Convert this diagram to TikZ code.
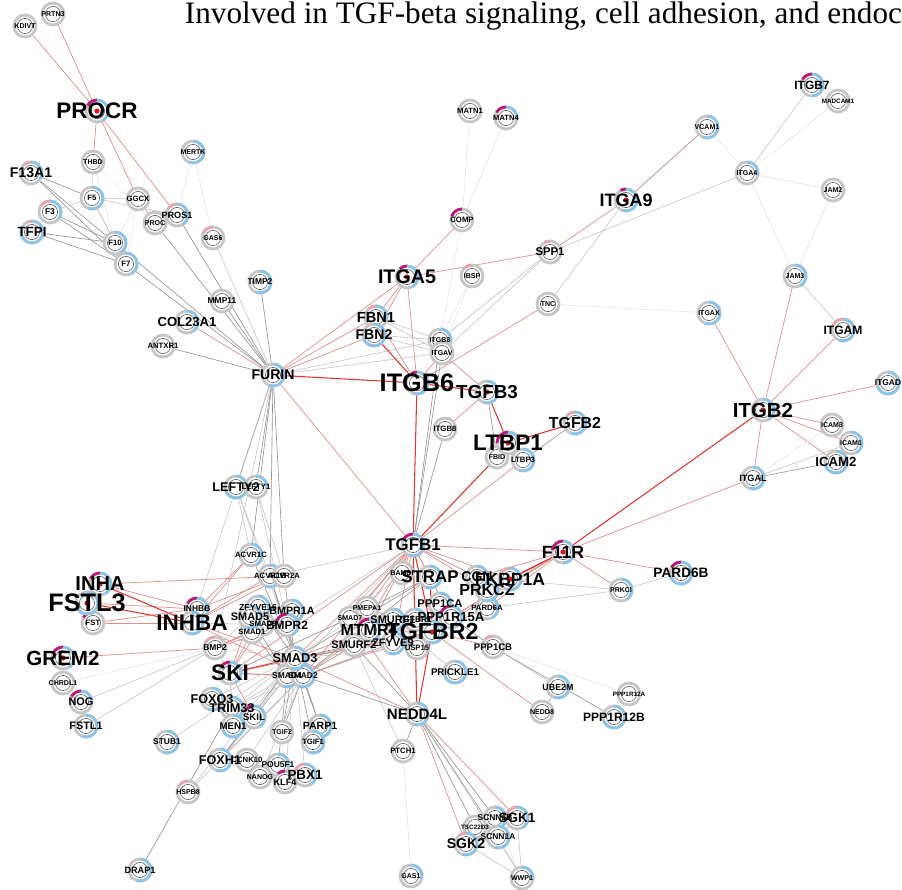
\documentclass[tikz,border=0pt]{standalone}
\usepackage{fontspec}
\setmainfont{Liberation Serif}
\newfontfamily\lblfont{Liberation Sans}
\usetikzlibrary{backgrounds}

\pgfdeclarelayer{front}
\pgfsetlayers{background,main,front}

\definecolor{edgered}{HTML}{E3342F}
\definecolor{edgepink}{HTML}{DE8F89}
\definecolor{edgebrown}{HTML}{B38D86}
\definecolor{edgegray}{HTML}{939393}
\definecolor{edgelight}{HTML}{C2C2C2}
\definecolor{edgefaint}{HTML}{E3E3E3}
\definecolor{ringgray}{HTML}{C6C6C6}
\definecolor{ringblue}{HTML}{8CC3E8}
\definecolor{ringmag}{HTML}{C0187A}
\definecolor{ringpink}{HTML}{E9A6AF}
\definecolor{hubred}{HTML}{E0141E}

\tikzset{
	gene/.style={circle, draw=ringgray, line width=2pt, fill=white, minimum size=0.55cm, inner sep=0pt,
		path picture={\draw[black!60, line width=0.45pt] (path picture bounding box.center) circle (0.19cm);}},
	lab/.style={font=\lblfont\bfseries\fontsize{#1}{#1}\selectfont, inner sep=0pt},
	hardred/.style={draw=edgered, line width=0.75pt},
	softred/.style={draw=edgepink, line width=0.5pt},
	brownline/.style={draw=edgebrown, line width=0.5pt},
	grayline/.style={draw=edgegray, line width=0.45pt},
	lightline/.style={draw=edgelight, line width=0.4pt},
	faintline/.style={draw=edgefaint, line width=0.4pt}
}

\newcommand{\genepie}[4]{%
	\ifdim #2pt>0pt \draw[ringmag, line width=2pt] ([shift={(90:0.275cm)}]#1.center) arc[start angle=90, end angle=90+#2, radius=0.275cm];\fi
	\ifdim #3pt>0pt \pgfmathsetmacro{\pa}{90+#2}\pgfmathsetmacro{\pb}{90+#2+#3}%
		\draw[ringpink, line width=2pt] ([shift={(\pa:0.275cm)}]#1.center) arc[start angle=\pa, end angle=\pb, radius=0.275cm];\fi
	\ifdim #4pt>0pt \draw[ringblue, line width=2pt] ([shift={(90:0.275cm)}]#1.center) arc[start angle=90, end angle=90-#4, radius=0.275cm];\fi}
\newcommand{\hub}[1]{\fill[hubred] (#1.center) circle (0.065cm);}

\begin{document}
\begin{tikzpicture}[x=0.025cm, y=-0.025cm]
	\useasboundingbox (0,0) rectangle (902,889);
	\node[anchor=base west, font=\fontsize{22.2}{22.2}\selectfont] (title) at (180,23) {Involved in TGF-beta signaling, cell adhesion, and endoc};
	
	\node[gene] (KDIVT) at (25,26) {};
	\node[gene] (PRTN3) at (53,14) {};
	\node[gene] (THBD) at (93,162) {};
	\node[gene] (MERTK) at (193,152) {};
	\genepie{MERTK}{0}{0}{200}
	\node[gene] (F5) at (92,198) {};
	\genepie{F5}{0}{0}{200}
	\node[gene] (GGCX) at (138,199) {};
	\node[gene] (PROC) at (155,223) {};
	\node[gene] (PROS1) at (177,215) {};
	\genepie{PROS1}{0}{50}{150}
	\node[gene] (F3) at (50,212) {};
	\genepie{F3}{0}{60}{120}
	\node[gene] (F10) at (115,243) {};
	\genepie{F10}{0}{0}{150}
	\node[gene] (F7) at (126,264) {};
	\genepie{F7}{0}{0}{150}
	\node[gene] (GAS6) at (213,238) {};
	\genepie{GAS6}{0}{60}{0}
	\node[gene] (F13A1) at (31,173) {};
	\genepie{F13A1}{0}{40}{120}
	\node[gene] (TFPI) at (32,232) {};
	\genepie{TFPI}{0}{20}{300}
	\node[gene] (PROCR) at (97,111) {};
	\genepie{PROCR}{60}{0}{150}\hub{PROCR}
	
	\node[gene] (TIMP2) at (260,282) {};
	\genepie{TIMP2}{0}{0}{200}
	\node[gene] (MMP11) at (222,301) {};
	\node[gene] (COL23A1) at (187,322) {};
	\genepie{COL23A1}{0}{0}{150}
	\node[gene] (ANTXR1) at (163,346) {};
	\node[gene] (FURIN) at (273,375) {};
	\genepie{FURIN}{0}{0}{200}
	\node[gene] (LEFTY2) at (236,487) {};
	\genepie{LEFTY2}{0}{0}{250}
	\node[gene] (LEFTY1) at (256,487) {};
	\genepie{LEFTY1}{0}{0}{100}
	\node[gene] (ACVR1C) at (251,555) {};
	\genepie{ACVR1C}{0}{0}{150}
	\node[gene] (ACVR1B) at (270,576) {};
	\genepie{ACVR1B}{0}{0}{200}
	\node[gene] (ACVR2A) at (284,576) {};
	
	\node[gene] (MATN1) at (470,111) {};
	\node[gene] (MATN4) at (506,118) {};
	\genepie{MATN4}{60}{0}{100}
	\node[gene] (COMP) at (462,220) {};
	\genepie{COMP}{70}{0}{0}
	\node[gene] (SPP1) at (550,252) {};
	\genepie{SPP1}{0}{30}{0}
	\node[gene] (IBSP) at (472,276) {};
	\genepie{IBSP}{0}{40}{0}
	\node[gene] (ITGA5) at (407,277) {};
	\genepie{ITGA5}{40}{0}{150}\hub{ITGA5}
	\node[gene] (TNC) at (548,304) {};
	\node[gene] (FBN1) at (376,317) {};
	\genepie{FBN1}{0}{40}{100}
	\node[gene] (FBN2) at (374,335) {};
	\genepie{FBN2}{0}{0}{250}
	\node[gene] (ITGB3) at (440,340) {};
	\genepie{ITGB3}{0}{0}{100}
	\node[gene] (ITGAV) at (442,353) {};
	\node[gene] (ITGB8) at (445,429) {};
	\node[gene] (ITGB6) at (417,383) {};
	\genepie{ITGB6}{30}{0}{200}
	\node[gene] (TGFB3) at (487,392) {};
	\genepie{TGFB3}{0}{0}{200}\hub{TGFB3}
	\node[gene] (TGFB2) at (575,423) {};
	\genepie{TGFB2}{0}{40}{200}
	\node[gene] (FBID) at (497,457) {};
	\node[gene] (LTBP3) at (523,460) {};
	\genepie{LTBP3}{0}{0}{200}
	\node[gene] (LTBP1) at (508,443) {};
	\genepie{LTBP1}{90}{0}{120}\hub{LTBP1}
	
	\node[gene] (ITGB7) at (812,85) {};
	\genepie{ITGB7}{60}{0}{180}
	\node[gene] (MADCAM1) at (838,101) {};
	\node[gene] (VCAM1) at (707,127) {};
	\genepie{VCAM1}{0}{0}{200}
	\node[gene] (ITGA4) at (747,173) {};
	\genepie{ITGA4}{0}{0}{100}
	\node[gene] (ITGA9) at (626,200) {};
	\genepie{ITGA9}{30}{0}{200}\hub{ITGA9}
	\node[gene] (JAM2) at (833,190) {};
	\node[gene] (JAM3) at (795,276) {};
	\genepie{JAM3}{0}{0}{150}
	\node[gene] (ITGAX) at (709,313) {};
	\genepie{ITGAX}{0}{0}{200}
	\node[gene] (ITGAM) at (843,330) {};
	\genepie{ITGAM}{0}{60}{200}
	\node[gene] (ITGAD) at (888,383) {};
	\genepie{ITGAD}{0}{0}{250}
	\node[gene] (ICAM3) at (832,425) {};
	\node[gene] (ICAM1) at (851,443) {};
	\genepie{ICAM1}{0}{0}{150}
	\node[gene] (ICAM2) at (836,462) {};
	\genepie{ICAM2}{0}{0}{250}
	\node[gene] (ITGAL) at (753,478) {};
	\genepie{ITGAL}{0}{0}{200}
	\node[gene] (ITGB2) at (763,410) {};
	\genepie{ITGB2}{0}{0}{150}\hub{ITGB2}
	
	\node[gene] (PARD6B) at (681,573) {};
	\genepie{PARD6B}{60}{0}{250}
	\node[gene] (PRKCI) at (621,590) {};
	\genepie{PRKCI}{0}{0}{150}
	\node[gene] (PPP1R12A) at (629,694) {};
	\node[gene] (PPP1R12B) at (614,717) {};
	\genepie{PPP1R12B}{0}{0}{250}
	\node[gene] (UBE2M) at (558,687) {};
	\genepie{UBE2M}{0}{0}{200}
	\node[gene] (NEDD8) at (542,712) {};
	\node[gene] (PRICKLE1) at (455,672) {};
	\genepie{PRICKLE1}{0}{0}{250}
	\node[gene] (PPP1CB) at (493,647) {};
	\genepie{PPP1CB}{0}{40}{0}
	\node[gene] (F11R) at (563,552) {};
	\genepie{F11R}{80}{0}{180}\hub{F11R}
	\node[gene] (TGFB1) at (413,545) {};
	\genepie{TGFB1}{60}{0}{200}
	
	\node[gene] (PTCH1) at (403,751) {};
	\node[gene] (GAS1) at (411,876) {};
	\genepie{GAS1}{0}{0}{100}
	\node[gene] (WWP1) at (522,878) {};
	\genepie{WWP1}{0}{0}{100}
	\node[gene] (SCNN1B) at (495,818) {};
	\genepie{SCNN1B}{0}{0}{150}
	\node[gene] (TSC22D3) at (475,827) {};
	\node[gene] (SCNN1A) at (498,837) {};
	\genepie{SCNN1A}{0}{0}{200}
	\node[gene] (SGK1) at (517,818) {};
	\genepie{SGK1}{0}{70}{150}
	\node[gene] (SGK2) at (466,844) {};
	\genepie{SGK2}{0}{40}{200}
	\node[gene] (NEDD4L) at (417,714) {};
	\genepie{NEDD4L}{0}{0}{200}
	
	\node[gene] (BAMBI) at (402,573) {};
	\node[gene] (SMAD7) at (350,618) {};
	\node[gene] (PMEPA1) at (367,608) {};
	\node[gene] (PARD6A) at (487,608) {};
	\genepie{PARD6A}{0}{0}{150}
	\node[gene] (PPP1CA) at (440,604) {};
	\genepie{PPP1CA}{0}{0}{200}
	\node[gene] (SMURF1) at (393,620) {};
	\genepie{SMURF1}{0}{0}{200}
	\node[gene] (TGFBR1) at (415,620) {};
	\genepie{TGFBR1}{0}{0}{150}
	\node[gene] (USP15) at (417,648) {};
	\node[gene] (SMURF2) at (354,645) {};
	\node[gene] (ZFYVE9) at (393,643) {};
	\genepie{ZFYVE9}{0}{0}{200}
	\node[gene] (PPP1R15A) at (451,617) {};
	\genepie{PPP1R15A}{70}{0}{150}
	\node[gene] (MTMR4) at (369,630) {};
	\genepie{MTMR4}{80}{0}{150}
	\node[gene] (TGFBR2) at (432,632) {};
	\genepie{TGFBR2}{0}{0}{200}\hub{TGFBR2}
	\node[gene] (PRKCZ) at (487,590) {};
	\genepie{PRKCZ}{0}{0}{200}
	\node[gene] (CGN) at (477,577) {};
	\genepie{CGN}{0}{0}{150}
	\node[gene] (STRAP) at (430,577) {};
	\genepie{STRAP}{0}{0}{200}
	\node[gene] (FKBP1A) at (510,579) {};
	\genepie{FKBP1A}{0}{50}{200}\hub{FKBP1A}
	
	\node[gene] (FST) at (93,623) {};
	\genepie{FST}{60}{0}{0}
	\node[gene] (INHA) at (100,584) {};
	\genepie{INHA}{60}{0}{150}\hub{INHA}
	\node[gene] (FSTL3) at (87,603) {};
	\genepie{FSTL3}{0}{0}{250}\hub{FSTL3}
	\node[gene] (INHBB) at (197,609) {};
	\genepie{INHBB}{60}{0}{120}
	\node[gene] (ZFYVE16) at (258,607) {};
	\genepie{ZFYVE16}{0}{0}{200}
	\node[gene] (SMAD9) at (263,624) {};
	\node[gene] (SMAD1) at (252,632) {};
	\node[gene] (SMAD5) at (250,617) {};
	\genepie{SMAD5}{0}{0}{200}
	\node[gene] (BMPR1A) at (292,611) {};
	\genepie{BMPR1A}{0}{0}{200}
	\node[gene] (BMPR2) at (287,625) {};
	\genepie{BMPR2}{80}{0}{150}
	\node[gene] (INHBA) at (192,623) {};
	\genepie{INHBA}{0}{0}{200}
	\node[gene] (BMP2) at (215,648) {};
	\genepie{BMP2}{0}{60}{0}
	\node[gene] (GREM2) at (63,658) {};
	\genepie{GREM2}{60}{0}{150}\hub{GREM2}
	\node[gene] (CHRDL1) at (63,683) {};
	\node[gene] (NOG) at (81,702) {};
	\genepie{NOG}{60}{0}{100}
	\node[gene] (FSTL1) at (86,726) {};
	\genepie{FSTL1}{0}{0}{200}
	
	\node[gene] (SMAD4) at (287,676) {};
	\genepie{SMAD4}{0}{0}{200}
	\node[gene] (SMAD2) at (303,676) {};
	\genepie{SMAD2}{0}{0}{200}
	\node[gene] (SMAD3) at (295,658) {};
	\genepie{SMAD3}{0}{0}{200}
	\node[gene] (SKI) at (230,673) {};
	\genepie{SKI}{60}{0}{150}
	\node[gene] (FOXO3) at (212,699) {};
	\genepie{FOXO3}{0}{0}{200}
	\node[gene] (TRIM33) at (232,708) {};
	\genepie{TRIM33}{0}{0}{200}
	\node[gene] (SKIL) at (254,717) {};
	\genepie{SKIL}{60}{0}{150}
	\node[gene] (MEN1) at (233,726) {};
	\genepie{MEN1}{0}{0}{250}
	\node[gene] (STUB1) at (167,742) {};
	\genepie{STUB1}{0}{0}{200}
	\node[gene] (TGIF2) at (282,732) {};
	\node[gene] (PARP1) at (320,726) {};
	\genepie{PARP1}{0}{0}{200}
	\node[gene] (TGIF1) at (313,742) {};
	\genepie{TGIF1}{0}{0}{200}
	\node[gene] (CCNK10) at (247,760) {};
	\node[gene] (FOXH1) at (220,760) {};
	\genepie{FOXH1}{0}{0}{200}
	\node[gene] (POU5F1) at (278,765) {};
	\genepie{POU5F1}{0}{0}{100}
	\node[gene] (NANOG) at (260,777) {};
	\node[gene] (KLF4) at (285,782) {};
	\genepie{KLF4}{40}{0}{0}
	\node[gene] (PBX1) at (305,775) {};
	\genepie{PBX1}{0}{60}{150}
	\node[gene] (HSPB8) at (188,792) {};
	\genepie{HSPB8}{0}{60}{0}
	\node[gene] (DRAP1) at (140,870) {};
	\genepie{DRAP1}{0}{0}{200}
	
	\begin{pgfonlayer}{front}
		\node[lab=5] (KDIVTt) at (KDIVT) {KDIVT};
		\node[lab=5] (PRTN3t) at (PRTN3) {PRTN3};
		\node[lab=5] (THBDt) at (THBD) {THBD};
		\node[lab=5] (MERTKt) at (MERTK) {MERTK};
		\node[lab=5.5] (F5t) at (F5) {F5};
		\node[lab=5.5] (GGCXt) at (GGCX) {GGCX};
		\node[lab=5] (PROCt) at (PROC) {PROC};
		\node[lab=6.5] (PROS1t) at (PROS1) {PROS1};
		\node[lab=6] (F3t) at (F3) {F3};
		\node[lab=5.5] (F10t) at (F10) {F10};
		\node[lab=5.5] (F7t) at (F7) {F7};
		\node[lab=5] (GAS6t) at (GAS6) {GAS6};
		\node[lab=10] (F13A1t) at (F13A1) {F13A1};
		\node[lab=9.5] (TFPIt) at (TFPI) {TFPI};
		\node[lab=16] (PROCRt) at (PROCR) {PROCR};
		\node[lab=6] (TIMP2t) at (TIMP2) {TIMP2};
		\node[lab=6] (MMP11t) at (MMP11) {MMP11};
		\node[lab=9.3] (COL23A1t) at (COL23A1) {COL23A1};
		\node[lab=5.5] (ANTXR1t) at (ANTXR1) {ANTXR1};
		\node[lab=10] (FURINt) at (FURIN) {FURIN};
		\node[lab=9] (LEFTY2t) at (LEFTY2) {LEFTY2};
		\node[lab=5.5] (LEFTY1t) at (LEFTY1) {LEFTY1};
		\node[lab=5.5] (ACVR1Ct) at (ACVR1C) {ACVR1C};
		\node[lab=5.5] (ACVR1Bt) at (ACVR1B) {ACVR1B};
		\node[lab=5.5] (ACVR2At) at (ACVR2A) {ACVR2A};
		\node[lab=5.4] (MATN1t) at (MATN1) {MATN1};
		\node[lab=5.4] (MATN4t) at (MATN4) {MATN4};
		\node[lab=5.5] (COMPt) at (COMP) {COMP};
		\node[lab=8] (SPP1t) at (SPP1) {SPP1};
		\node[lab=5] (IBSPt) at (IBSP) {IBSP};
		\node[lab=14] (ITGA5t) at (ITGA5) {ITGA5};
		\node[lab=5] (TNCt) at (TNC) {TNC};
		\node[lab=10.4] (FBN1t) at (FBN1) {FBN1};
		\node[lab=10] (FBN2t) at (FBN2) {FBN2};
		\node[lab=5] (ITGB3t) at (ITGB3) {ITGB3};
		\node[lab=5] (ITGAVt) at (ITGAV) {ITGAV};
		\node[lab=5.5] (ITGB8t) at (ITGB8) {ITGB8};
		\node[lab=18] (ITGB6t) at (ITGB6) {ITGB6};
		\node[lab=13.4] (TGFB3t) at (TGFB3) {TGFB3};
		\node[lab=11.3] (TGFB2t) at (TGFB2) {TGFB2};
		\node[lab=5] (FBIDt) at (FBID) {FBID};
		\node[lab=5.5] (LTBP3t) at (LTBP3) {LTBP3};
		\node[lab=16] (LTBP1t) at (LTBP1) {LTBP1};
		\node[lab=8.5] (ITGB7t) at (ITGB7) {ITGB7};
		\node[lab=4.5] (MADCAM1t) at (MADCAM1) {MADCAM1};
		\node[lab=5] (VCAM1t) at (VCAM1) {VCAM1};
		\node[lab=5] (ITGA4t) at (ITGA4) {ITGA4};
		\node[lab=12.8] (ITGA9t) at (ITGA9) {ITGA9};
		\node[lab=5] (JAM2t) at (JAM2) {JAM2};
		\node[lab=5] (JAM3t) at (JAM3) {JAM3};
		\node[lab=5] (ITGAXt) at (ITGAX) {ITGAX};
		\node[lab=8.6] (ITGAMt) at (ITGAM) {ITGAM};
		\node[lab=6] (ITGADt) at (ITGAD) {ITGAD};
		\node[lab=5] (ICAM3t) at (ICAM3) {ICAM3};
		\node[lab=5] (ICAM1t) at (ICAM1) {ICAM1};
		\node[lab=9.4] (ICAM2t) at (ICAM2) {ICAM2};
		\node[lab=6.5] (ITGALt) at (ITGAL) {ITGAL};
		\node[lab=14.5] (ITGB2t) at (ITGB2) {ITGB2};
		\node[lab=9.7] (PARD6Bt) at (PARD6B) {PARD6B};
		\node[lab=5] (PRKCIt) at (PRKCI) {PRKCI};
		\node[lab=4.5] (PPP1R12At) at (PPP1R12A) {PPP1R12A};
		\node[lab=8.6] (PPP1R12Bt) at (PPP1R12B) {PPP1R12B};
		\node[lab=6.3] (UBE2Mt) at (UBE2M) {UBE2M};
		\node[lab=5] (NEDD8t) at (NEDD8) {NEDD8};
		\node[lab=6.9] (PRICKLE1t) at (PRICKLE1) {PRICKLE1};
		\node[lab=6.8] (PPP1CBt) at (PPP1CB) {PPP1CB};
		\node[lab=12.6] (F11Rt) at (F11R) {F11R};
		\node[lab=12] (TGFB1t) at (TGFB1) {TGFB1};
		\node[lab=5.5] (PTCH1t) at (PTCH1) {PTCH1};
		\node[lab=5] (GAS1t) at (GAS1) {GAS1};
		\node[lab=5] (WWP1t) at (WWP1) {WWP1};
		\node[lab=6] (SCNN1Bt) at (SCNN1B) {SCNN1B};
		\node[lab=4.5] (TSC22D3t) at (TSC22D3) {TSC22D3};
		\node[lab=6] (SCNN1At) at (SCNN1A) {SCNN1A};
		\node[lab=9.6] (SGK1t) at (SGK1) {SGK1};
		\node[lab=10] (SGK2t) at (SGK2) {SGK2};
		\node[lab=10.7] (NEDD4Lt) at (NEDD4L) {NEDD4L};
		\node[lab=5] (BAMBIt) at (BAMBI) {BAMBI};
		\node[lab=5] (SMAD7t) at (SMAD7) {SMAD7};
		\node[lab=5] (PMEPA1t) at (PMEPA1) {PMEPA1};
		\node[lab=5.5] (PARD6At) at (PARD6A) {PARD6A};
		\node[lab=8] (PPP1CAt) at (PPP1CA) {PPP1CA};
		\node[lab=7.8] (SMURF1t) at (SMURF1) {SMURF1};
		\node[lab=6] (TGFBR1t) at (TGFBR1) {TGFBR1};
		\node[lab=5.5] (USP15t) at (USP15) {USP15};
		\node[lab=7.8] (SMURF2t) at (SMURF2) {SMURF2};
		\node[lab=7.8] (ZFYVE9t) at (ZFYVE9) {ZFYVE9};
		\node[lab=9.3] (PPP1R15At) at (PPP1R15A) {PPP1R15A};
		\node[lab=11.4] (MTMR4t) at (MTMR4) {MTMR4};
		\node[lab=16.5] (TGFBR2t) at (TGFBR2) {TGFBR2};
		\node[lab=11.4] (PRKCZt) at (PRKCZ) {PRKCZ};
		\node[lab=10] (CGNt) at (CGN) {CGN};
		\node[lab=12] (STRAPt) at (STRAP) {STRAP};
		\node[lab=12.5] (FKBP1At) at (FKBP1A) {FKBP1A};
		\node[lab=5.5] (FSTt) at (FST) {FST};
		\node[lab=14.3] (INHAt) at (INHA) {INHA};
		\node[lab=18] (FSTL3t) at (FSTL3) {FSTL3};
		\node[lab=6] (INHBBt) at (INHBB) {INHBB};
		\node[lab=6.2] (ZFYVE16t) at (ZFYVE16) {ZFYVE16};
		\node[lab=5.5] (SMAD9t) at (SMAD9) {SMAD9};
		\node[lab=5.5] (SMAD1t) at (SMAD1) {SMAD1};
		\node[lab=7.8] (SMAD5t) at (SMAD5) {SMAD5};
		\node[lab=7.6] (BMPR1At) at (BMPR1A) {BMPR1A};
		\node[lab=8.5] (BMPR2t) at (BMPR2) {BMPR2};
		\node[lab=16] (INHBAt) at (INHBA) {INHBA};
		\node[lab=6] (BMP2t) at (BMP2) {BMP2};
		\node[lab=14.6] (GREM2t) at (GREM2) {GREM2};
		\node[lab=5] (CHRDL1t) at (CHRDL1) {CHRDL1};
		\node[lab=7.8] (NOGt) at (NOG) {NOG};
		\node[lab=7.7] (FSTL1t) at (FSTL1) {FSTL1};
		\node[lab=6] (SMAD4t) at (SMAD4) {SMAD4};
		\node[lab=6] (SMAD2t) at (SMAD2) {SMAD2};
		\node[lab=9.1] (SMAD3t) at (SMAD3) {SMAD3};
		\node[lab=16] (SKIt) at (SKI) {SKI};
		\node[lab=9] (FOXO3t) at (FOXO3) {FOXO3};
		\node[lab=9] (TRIM33t) at (TRIM33) {TRIM33};
		\node[lab=6.8] (SKILt) at (SKIL) {SKIL};
		\node[lab=6.9] (MEN1t) at (MEN1) {MEN1};
		\node[lab=6] (STUB1t) at (STUB1) {STUB1};
		\node[lab=5] (TGIF2t) at (TGIF2) {TGIF2};
		\node[lab=7.5] (PARP1t) at (PARP1) {PARP1};
		\node[lab=5.5] (TGIF1t) at (TGIF1) {TGIF1};
		\node[lab=5.5] (CCNK10t) at (CCNK10) {CCNK10};
		\node[lab=9] (FOXH1t) at (FOXH1) {FOXH1};
		\node[lab=6] (POU5F1t) at (POU5F1) {POU5F1};
		\node[lab=5] (NANOGt) at (NANOG) {NANOG};
		\node[lab=6.5] (KLF4t) at (KLF4) {KLF4};
		\node[lab=9.5] (PBX1t) at (PBX1) {PBX1};
		\node[lab=5] (HSPB8t) at (HSPB8) {HSPB8};
		\node[lab=6.5] (DRAP1t) at (DRAP1) {DRAP1};
	\end{pgfonlayer}
	
	\begin{scope}[on background layer]
		\draw[softred] (PROCR)--(KDIVT);
		\draw[softred] (PROCR)--(PRTN3);
		\draw[softred] (PROCR)--(THBD);
		\draw[softred] (PROCR)--(GGCX);
		\draw[softred] (PROCR)--(PROS1);
		\draw[softred] (GGCX)--(PROC);
		\draw[faintline] (THBD)--(F5);
		\draw[faintline] (THBD)--(PROC);
		\draw[faintline] (THBD)--(F10);
		\draw[grayline] (F13A1)--(F5);
		\draw[grayline] (F13A1)--(F10);
		\draw[grayline] (F13A1)--(F7);
		\draw[lightline] (F3)--(F5);
		\draw[grayline] (F3)--(F10);
		\draw[grayline] (F3)--(F7);
		\draw[grayline] (TFPI)--(F10);
		\draw[grayline] (TFPI)--(F7);
		\draw[lightline] (F5)--(F10);
		\draw[lightline] (F5)--(GGCX);
		\draw[lightline] (F5)--(PROS1);
		\draw[lightline] (F5)--(F7);
		\draw[faintline] (GGCX)--(F10);
		\draw[faintline] (GGCX)--(F7);
		\draw[faintline] (MERTK)--(PROS1);
		\draw[faintline] (MERTK)--(GAS6);
		\draw[grayline] (F10)--(FURIN);
		\draw[grayline] (F7)--(FURIN);
		\draw[grayline] (PROC)--(FURIN);
		\draw[grayline] (PROS1)--(FURIN);
		\draw[lightline] (GAS6)--(FURIN);
		\draw[grayline] (MMP11)--(FURIN);
		\draw[grayline] (TIMP2)--(FURIN);
		\draw[grayline] (ANTXR1)--(FURIN);
		\draw[softred] (COL23A1)--(FURIN);
		
		\draw[hardred] (FURIN)--(ITGB6);
		\draw[softred] (FURIN)--(ITGA5);
		\draw[softred] (FURIN)--(FBN1);
		\draw[softred] (FURIN)--(FBN2);
		\draw[softred] (FURIN)--(TGFB1);
		\draw[lightline] (FURIN)--(ITGB3);
		\draw[lightline] (FURIN)--(ITGAV);
		\draw[brownline] (FURIN)--(LEFTY2);
		\draw[grayline] (FURIN)--(LEFTY1);
		\draw[grayline] (FURIN)--(ACVR1C);
		\draw[grayline] (FURIN)--(ACVR1B);
		\draw[grayline] (FURIN)--(ACVR2A);
		\draw[lightline] (FURIN)--(INHBA);
		\draw[lightline] (FURIN)--(BMP2);
		\draw[lightline] (LEFTY2)--(ACVR1C);
		\draw[lightline] (LEFTY2)--(ACVR1B);
		\draw[lightline] (LEFTY2)--(SMAD2);
		\draw[lightline] (LEFTY1)--(ACVR2A);
		\draw[lightline] (LEFTY1)--(SMAD3);
		\draw[softred] (ACVR1C)--(INHBB);
		\draw[softred] (ACVR1C)--(INHBA);
		
		\draw[softred] (ITGA5)--(COMP);
		\draw[softred] (ITGA5)--(SPP1);
		\draw[softred] (ITGA5)--(FBN1);
		\draw[softred] (ITGA5)--(FBN2);
		\draw[softred] (ITGA5)--(ITGB6);
		\draw[faintline] (COMP)--(MATN1);
		\draw[faintline] (COMP)--(MATN4);
		\draw[faintline] (COMP)--(ITGB3);
		\draw[lightline] (SPP1)--(ITGB3);
		\draw[lightline] (SPP1)--(ITGAV);
		\draw[lightline] (SPP1)--(ITGA4);
		\draw[softred] (SPP1)--(ITGA9);
		\draw[brownline] (VCAM1)--(ITGA9);
		\draw[lightline] (ITGA9)--(TNC);
		\draw[softred] (TNC)--(ITGB6);
		\draw[faintline] (IBSP)--(ITGAV);
		\draw[faintline] (IBSP)--(ITGB3);
		\draw[faintline] (ITGA4)--(VCAM1);
		\draw[lightline] (ITGA4)--(ITGB7);
		\draw[faintline] (ITGA4)--(MADCAM1);
		\draw[faintline] (ITGA4)--(JAM2);
		\draw[faintline] (ITGA4)--(JAM3);
		\draw[faintline] (ITGB7)--(MADCAM1);
		\draw[faintline] (JAM2)--(JAM3);
		\draw[faintline] (ITGAX)--(TNC);
		
		\draw[softred] (ITGB2)--(JAM3);
		\draw[softred] (ITGB2)--(ITGAX);
		\draw[softred] (ITGB2)--(ITGAM);
		\draw[softred] (ITGB2)--(ITGAD);
		\draw[softred] (ITGB2)--(ICAM3);
		\draw[softred] (ITGB2)--(ICAM1);
		\draw[softred] (ITGB2)--(ICAM2);
		\draw[softred] (ITGB2)--(ITGAL);
		\draw[lightline] (JAM3)--(ITGAM);
		\draw[faintline] (ITGAL)--(ICAM3);
		\draw[lightline] (ITGAL)--(ICAM1);
		\draw[grayline] (ITGAL)--(ICAM2);
		\draw[hardred] (ITGB2)--(F11R);
		\draw[softred] (ITGAL)--(F11R);
		
		\draw[grayline] (ITGB3)--(ITGAV);
		\draw[lightline] (ITGB3)--(FBN1);
		\draw[lightline] (ITGB3)--(FBN2);
		\draw[lightline] (ITGAV)--(FBN1);
		\draw[lightline] (ITGAV)--(FBN2);
		\draw[softred] (ITGAV)--(ITGB6);
		\draw[softred] (ITGAV)--(TGFB3);
		\draw[grayline] (ITGB3)--(TGFB1);
		\draw[grayline] (ITGAV)--(TGFB1);
		\draw[softred] (FBN1)--(ITGB6);
		\draw[hardred] (FBN2)--(ITGB6);
		\draw[hardred] (ITGB6)--(TGFB3);
		\draw[hardred] (ITGB6)--(TGFB1);
		\draw[softred] (ITGB8)--(TGFB3);
		\draw[grayline] (ITGB8)--(TGFB1);
		\draw[hardred] (TGFB3)--(LTBP1);
		\draw[grayline] (TGFB3)--(FBID);
		\draw[hardred] (LTBP1)--(TGFB2);
		\draw[grayline] (LTBP3)--(TGFB2);
		\draw[hardred] (FBID)--(TGFB1);
		\draw[softred] (LTBP3)--(TGFB1);
		
		\draw[softred] (TGFB1)--(F11R);
		\draw[hardred] (TGFB1)--(TGFBR2);
		\draw[softred] (TGFB1)--(STRAP);
		\draw[softred] (TGFB1)--(BAMBI);
		\draw[softred] (TGFB1)--(FKBP1A);
		\draw[softred] (TGFB1)--(CGN);
		\draw[softred] (TGFB1)--(SMAD7);
		\draw[softred] (TGFB1)--(PMEPA1);
		\draw[softred] (TGFB1)--(MTMR4);
		\draw[softred] (TGFB1)--(SMURF2);
		\draw[softred] (TGFB1)--(SMAD3);
		\draw[softred] (TGFB1)--(SMAD2);
		\draw[softred] (TGFB1)--(SKI);
		\draw[softred] (TGFB1)--(TGFBR1);
		\draw[softred] (TGFB1)--(ZFYVE9);
		\draw[softred] (TGFB1)--(PPP1R15A);
		\draw[softred] (TGFB1)--(PRKCZ);
		\draw[lightline] (TGFB1)--(ACVR1B);
		\draw[lightline] (TGFB1)--(SMAD4);
		\draw[lightline] (TGFB1)--(BMPR2);
		\draw[hardred] (TGFB1)--(NEDD4L);
		
		\draw[softred] (F11R)--(PARD6B);
		\draw[softred] (F11R)--(PRKCI);
		\draw[hardred] (F11R)--(FKBP1A);
		\draw[hardred] (F11R)--(PRKCZ);
		\draw[softred] (F11R)--(PARD6A);
		\draw[softred] (F11R)--(CGN);
		\draw[softred] (F11R)--(TGFBR2);
		\draw[softred] (F11R)--(PPP1R15A);
		\draw[lightline] (PARD6B)--(PRKCI);
		\draw[lightline] (PRKCI)--(PARD6A);
		\draw[lightline] (PRKCI)--(CGN);
		
		\draw[hardred] (TGFBR2)--(STRAP);
		\draw[softred] (TGFBR2)--(FKBP1A);
		\draw[softred] (TGFBR2)--(PPP1CA);
		\draw[softred] (TGFBR2)--(PPP1R15A);
		\draw[softred] (TGFBR2)--(SMURF1);
		\draw[softred] (TGFBR2)--(TGFBR1);
		\draw[softred] (TGFBR2)--(ZFYVE9);
		\draw[softred] (TGFBR2)--(USP15);
		\draw[softred] (TGFBR2)--(SMAD7);
		\draw[softred] (TGFBR2)--(MTMR4);
		\draw[softred] (TGFBR2)--(PMEPA1);
		\draw[softred] (TGFBR2)--(SMAD3);
		\draw[softred] (TGFBR2)--(SMAD2);
		\draw[softred] (TGFBR2)--(SKI);
		\draw[softred] (TGFBR2)--(PPP1CB);
		\draw[softred] (TGFBR2)--(PARD6A);
		\draw[softred] (TGFBR2)--(NEDD8);
		\draw[hardred] (TGFBR2)--(NEDD4L);
		\draw[grayline] (STRAP)--(SMAD7);
		\draw[grayline] (STRAP)--(SMAD3);
		\draw[grayline] (STRAP)--(SMAD2);
		\draw[grayline] (PPP1CA)--(PPP1R15A);
		\draw[grayline] (PPP1CB)--(PPP1R15A);
		\draw[faintline] (PPP1CB)--(PPP1R12A);
		\draw[grayline] (PPP1CB)--(PPP1R12B);
		\draw[lightline] (PPP1CB)--(UBE2M);
		\draw[grayline] (UBE2M)--(NEDD8);
		\draw[lightline] (SMURF1)--(PRICKLE1);
		\draw[softred] (MTMR4)--(SMAD3);
		\draw[softred] (MTMR4)--(SMAD2);
		\draw[grayline] (SMAD7)--(SMURF1);
		\draw[grayline] (SMAD7)--(SMURF2);
		\draw[grayline] (SMAD7)--(SKI);
		\draw[grayline] (SMURF2)--(SMAD3);
		\draw[grayline] (SMURF2)--(SMAD2);
		\draw[grayline] (ZFYVE9)--(SMAD3);
		\draw[grayline] (ZFYVE9)--(SMAD2);
		\draw[lightline] (PMEPA1)--(SMAD3);
		\draw[lightline] (USP15)--(SMAD3);
		\draw[lightline] (BAMBI)--(SMAD7);
		
		\draw[hardred] (SKI)--(SMAD3);
		\draw[softred] (SKI)--(SMAD2);
		\draw[softred] (SKI)--(SMAD4);
		\draw[softred] (SKI)--(SKIL);
		\draw[softred] (SKI)--(TRIM33);
		\draw[softred] (SKI)--(SMAD5);
		\draw[softred] (SKI)--(SMAD1);
		\draw[softred] (SKI)--(SMAD9);
		\draw[hardred] (FSTL3)--(INHBA);
		\draw[softred] (FSTL3)--(INHBB);
		\draw[softred] (INHA)--(INHBB);
		\draw[hardred] (INHA)--(INHBA);
		\draw[softred] (FST)--(INHBA);
		\draw[softred] (FST)--(INHBB);
		\draw[softred] (INHA)--(ACVR2A);
		\draw[softred] (GREM2)--(BMP2);
		\draw[faintline] (CHRDL1)--(BMP2);
		\draw[lightline] (NOG)--(BMP2);
		\draw[lightline] (FSTL1)--(BMP2);
		\draw[softred] (INHBA)--(ACVR1B);
		\draw[softred] (INHBA)--(ACVR2A);
		\draw[softred] (INHBB)--(ACVR2A);
		\draw[softred] (INHBA)--(SMAD3);
		\draw[softred] (INHBA)--(SMAD2);
		\draw[lightline] (INHBA)--(BMPR2);
		\draw[softred] (BMP2)--(BMPR1A);
		\draw[softred] (BMP2)--(BMPR2);
		\draw[softred] (BMP2)--(SMAD1);
		\draw[lightline] (BMP2)--(SMAD5);
		\draw[lightline] (BMP2)--(SMAD3);
		\draw[lightline] (BMP2)--(SKI);
		\draw[grayline] (ACVR1B)--(SMAD2);
		\draw[grayline] (ACVR1B)--(SMAD3);
		\draw[grayline] (ACVR2A)--(SMAD3);
		\draw[grayline] (ACVR1C)--(SMAD2);
		\draw[grayline] (ZFYVE16)--(SMAD3);
		\draw[grayline] (BMPR1A)--(SMAD1);
		\draw[grayline] (BMPR2)--(SMAD5);
		\draw[grayline] (SMAD1)--(SMAD4);
		\draw[grayline] (SMAD5)--(SMAD4);
		\draw[grayline] (BMPR1A)--(BMPR2);
		
		\draw[grayline] (SMAD2)--(FOXH1);
		\draw[grayline] (SMAD3)--(FOXH1);
		\draw[grayline] (SMAD4)--(FOXH1);
		\draw[grayline] (SMAD3)--(TGIF2);
		\draw[grayline] (SMAD2)--(TGIF2);
		\draw[grayline] (SMAD3)--(PARP1);
		\draw[grayline] (SMAD2)--(PARP1);
		\draw[grayline] (SMAD3)--(TGIF1);
		\draw[grayline] (SMAD4)--(POU5F1);
		\draw[lightline] (SMAD2)--(NANOG);
		\draw[lightline] (SMAD3)--(KLF4);
		\draw[lightline] (SMAD3)--(PBX1);
		\draw[lightline] (SMAD2)--(CCNK10);
		\draw[lightline] (SMAD3)--(SKIL);
		\draw[lightline] (SMAD4)--(SKIL);
		\draw[lightline] (SMAD3)--(MEN1);
		\draw[lightline] (SMAD3)--(TRIM33);
		\draw[lightline] (SMAD4)--(TRIM33);
		\draw[lightline] (SMAD2)--(TRIM33);
		\draw[lightline] (SMAD3)--(FOXO3);
		\draw[lightline] (SMAD3)--(STUB1);
		\draw[lightline] (SMAD3)--(HSPB8);
		\draw[lightline] (SMAD2)--(HSPB8);
		\draw[grayline] (DRAP1)--(TRIM33);
		
		\draw[softred] (NEDD4L)--(SMAD7);
		\draw[softred] (NEDD4L)--(SMAD3);
		\draw[grayline] (NEDD4L)--(SMAD2);
		\draw[grayline] (NEDD4L)--(SMURF2);
		\draw[grayline] (NEDD4L)--(PTCH1);
		\draw[softred] (NEDD4L)--(SGK1);
		\draw[softred] (NEDD4L)--(SGK2);
		\draw[grayline] (NEDD4L)--(SCNN1A);
		\draw[grayline] (NEDD4L)--(SCNN1B);
		\draw[grayline] (NEDD4L)--(TSC22D3);
		\draw[lightline] (NEDD4L)--(WWP1);
		\draw[grayline] (SGK1)--(SCNN1A);
		\draw[grayline] (SGK1)--(SCNN1B);
		\draw[grayline] (SGK2)--(SCNN1A);
		\draw[lightline] (SGK1)--(WWP1);
		\draw[lightline] (SGK2)--(WWP1);
		\draw[lightline] (SCNN1A)--(WWP1);
		\draw[faintline] (SCNN1B)--(WWP1);
		\draw[lightline] (TSC22D3)--(SGK1);
		\draw[lightline] (TSC22D3)--(SCNN1A);
		\draw[faintline] (PTCH1)--(GAS1);
		\draw[lightline] (PTCH1)--(SMURF2);
	\end{scope}
\end{tikzpicture}
\end{document}
